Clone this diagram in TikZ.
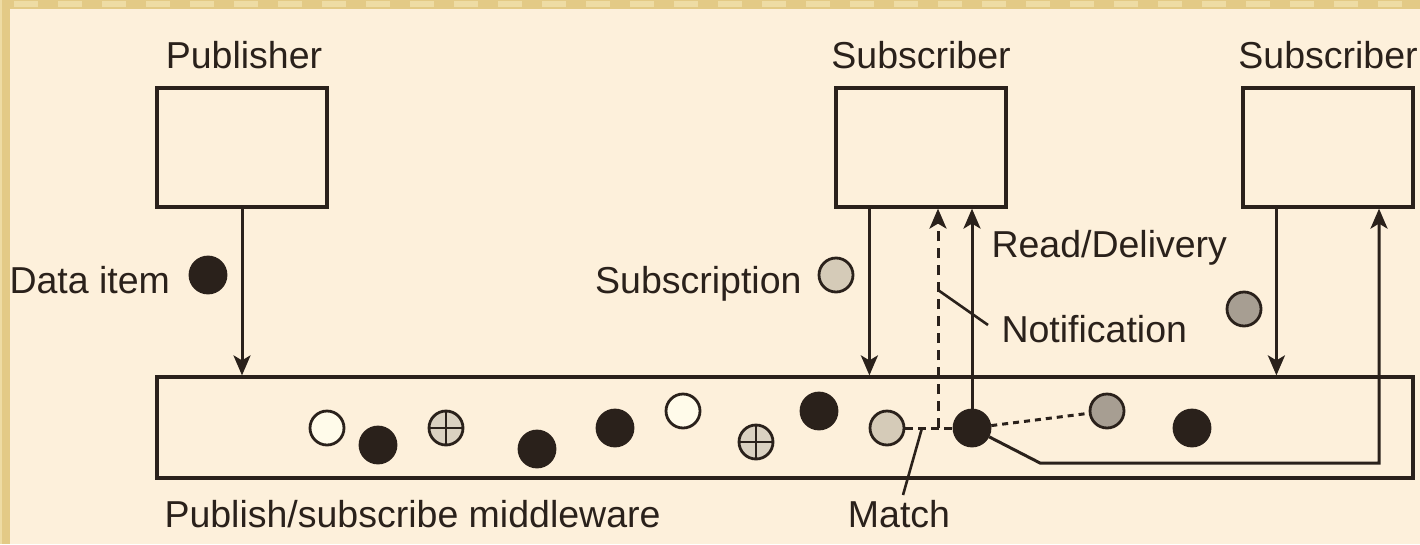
\documentclass[tikz,border=0pt]{standalone}
\usepackage{fontspec}
\setmainfont{Liberation Sans}
\usetikzlibrary{arrows.meta}
\definecolor{paper}{HTML}{FDF0DB}
\definecolor{rim}{HTML}{E3CA86}
\definecolor{rimlight}{HTML}{EEDCA4}
\definecolor{ink}{HTML}{2A211B}
\definecolor{subfill}{HTML}{D5CBB8}
\definecolor{greyfill}{HTML}{A79E92}
\definecolor{openfill}{HTML}{FFFBEA}
\definecolor{plusfill}{HTML}{DAD1C1}
\begin{document}
\begin{tikzpicture}[x=1pt,y=-1pt,line width=3pt,draw=ink,
  box/.style={draw=ink,line width=3.2pt,minimum width=170pt,minimum height=119pt,inner sep=0pt},
  lbl/.style={text=ink,font=\fontsize{37.5}{45}\selectfont,inner sep=0pt},
  dot/.style={circle,draw=ink,line width=2.8pt,minimum size=34pt,inner sep=0pt},
  blackdot/.style={dot,fill=ink,minimum size=36pt},
  plusdot/.style={dot,fill=plusfill,path picture={
      \draw[ink,line width=2.4pt]
        (path picture bounding box.north) -- (path picture bounding box.south)
        (path picture bounding box.west) -- (path picture bounding box.east);}},
  tip/.style={-{Stealth[length=20pt,width=17pt,inset=5pt]}},
  dashline/.style={dash pattern=on 10pt off 7pt},
  dotline/.style={dash pattern=on 6pt off 5pt}]

% paper and its tinted rim
\fill[paper] (0,0) rectangle (1420,544);
\fill[rim] (0,0) rectangle (1420,9);
\fill[rim] (0,0) rectangle (10,544);
\foreach \x in {14,58,102,146,190,234,278,322,366,410,454,498,542,586,630,674,718,762,806,850,894,938,982,1026,1070,1114,1158,1202,1246,1290,1334,1378}
  \fill[rimlight] (\x,1) rectangle ++(24,6);
\fill[rimlight] (0,0) rectangle (2,544);

% boxes
\node[box] (pub) at (242,147.5) {};
\node[box] (sub1) at (921,147.5) {};
\node[box] (sub2) at (1328,147.5) {};
\node[draw=ink,line width=3.2pt,minimum width=1256pt,minimum height=101pt,inner sep=0pt] (mw) at (785,427.5) {};

% box titles
\node[lbl,anchor=base] (tpub) at (244,68) {Publisher};
\node[lbl,anchor=base] (tsub1) at (921,68) {Subscriber};
\node[lbl,anchor=base] (tsub2) at (1328,68) {Subscriber};

% legend dots
\node[blackdot] (ditem) at (208,275) {};
\node[lbl,anchor=base west] (tditem) at (8,293) {Data item};
\node[dot,fill=subfill] (sdot) at (836,275) {};
\node[lbl,anchor=base east] (tsdot) at (803,293) {Subscription};
\node[dot,fill=greyfill] (gdot) at (1244,309) {};

% items inside the middleware
\node[dot,fill=openfill] (d1) at (327,428) {};
\node[blackdot] (d2) at (378,445) {};
\node[plusdot] (d3) at (446,428) {};
\node[blackdot] (d4) at (537,449) {};
\node[blackdot] (d5) at (615,428) {};
\node[dot,fill=openfill] (d6) at (683,411) {};
\node[plusdot] (d7) at (756,442) {};
\node[blackdot] (d8) at (819,411) {};
\node[dot,fill=subfill] (d9) at (887,428) {};
\node[blackdot] (d10) at (972,428) {};
\node[dot,fill=greyfill] (d11) at (1107,411) {};
\node[blackdot] (d12) at (1192,428) {};

% helper points
\coordinate (pubin) at (pub.south |- mw.north);
\coordinate (s1out) at ([xshift=35pt]sub1.south west);
\coordinate (s1in) at (s1out |- mw.north);
\coordinate (s2out) at ([xshift=35pt]sub2.south west);
\coordinate (s2in) at (s2out |- mw.north);
\coordinate (notif) at (938,428);
\coordinate (notiftop) at (notif |- sub1.south);
\coordinate (notifmid) at (938,290);
\coordinate (notiflbl) at (988,325);
\coordinate (matchpt) at (922,428);
\coordinate (matchend) at (903,495);
\coordinate (bend1) at (1040,463);
\coordinate (bend2) at (1379,463);
\coordinate (s2back) at (bend2 |- sub2.south);

% connectors
\draw[tip] (pub.south) -- (pubin);
\draw[tip] (s1out) -- (s1in);
\draw[tip] (s2out) -- (s2in);
\draw[tip,dashline] (notif) -- (notiftop);
\draw[tip] (d10.north) -- (d10.north |- sub1.south);
\draw[tip] (d10) -- (bend1) -- (bend2) -- (s2back);
\draw[dash pattern=on 8pt off 5pt] (d9.east) -- (d10.west);
\draw[dotline] (d10) -- (d11);
\draw[line width=2.6pt] (matchpt) -- (matchend);
\draw[line width=2.6pt] (notifmid) -- (notiflbl);

% labels
\node[lbl,anchor=base west] (tread) at (990,257) {Read/Delivery};
\node[lbl,anchor=base west] (tnotif) at (1000,342) {Notification};
\node[lbl,anchor=base west] (tmw) at (163,527) {Publish/subscribe middleware};
\node[lbl,anchor=base] (tmatch) at (899,527) {Match};
\end{tikzpicture}
\end{document}
